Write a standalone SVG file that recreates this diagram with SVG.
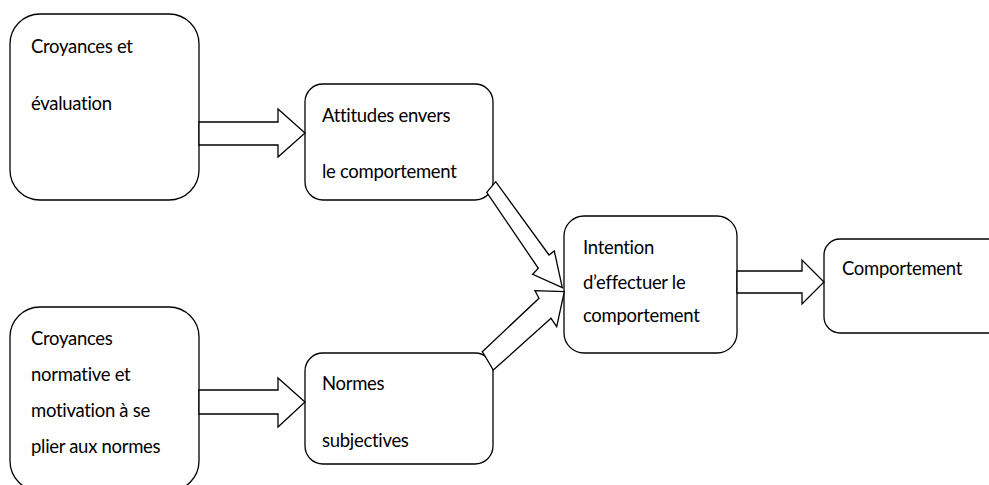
<svg xmlns="http://www.w3.org/2000/svg" width="989" height="485" viewBox="0 0 989 485">
  <style>
    .box { fill: #ffffff; stroke: #000000; stroke-width: 1.3; }
    .arrow { fill: #ffffff; stroke: #000000; stroke-width: 1.3; stroke-linejoin: miter; }
    .label { font-family: Lato, "Open Sans", "Liberation Sans", sans-serif; font-size: 18.5px; letter-spacing: -0.3px; fill: #000000; }
  </style>
  <rect width="989" height="485" fill="#ffffff"/>

  <!-- nodes -->
  <g id="croyances-evaluation">
    <rect class="box" x="10" y="14" width="189" height="186" rx="30" ry="30"/>
    <text class="label" x="31" y="53">Croyances et</text>
    <text class="label" x="31" y="110">évaluation</text>
  </g>

  <g id="attitudes">
    <rect class="box" x="305" y="84" width="188" height="116" rx="18" ry="18"/>
    <text class="label" x="322" y="122">Attitudes envers</text>
    <text class="label" x="322" y="178">le comportement</text>
  </g>

  <g id="croyances-normatives">
    <rect class="box" x="10" y="307" width="189" height="184" rx="30" ry="30"/>
    <text class="label" x="31" y="345">Croyances</text>
    <text class="label" x="31" y="381">normative et</text>
    <text class="label" x="31" y="417">motivation à se</text>
    <text class="label" x="31" y="453">plier aux normes</text>
  </g>

  <g id="normes-subjectives">
    <rect class="box" x="305" y="353" width="188" height="111" rx="18" ry="18"/>
    <text class="label" x="322" y="390">Normes</text>
    <text class="label" x="322" y="447">subjectives</text>
  </g>

  <g id="intention">
    <rect class="box" x="564" y="216" width="173" height="137" rx="20" ry="20"/>
    <text class="label" x="583" y="254">Intention</text>
    <text class="label" x="583" y="289">d’effectuer le</text>
    <text class="label" x="583" y="322">comportement</text>
  </g>

  <g id="comportement">
    <rect class="box" x="824" y="239" width="190" height="94" rx="16" ry="16"/>
    <text class="label" x="842" y="275">Comportement</text>
  </g>

  <!-- connectors: hollow block arrows -->
  <g id="connectors">
    <polygon class="arrow" points="199,122 278,122 278,109 305,133 278,157 278,145 199,145"/>
    <polygon class="arrow" points="199,390 278,390 278,378 305,402 278,427 278,414 199,414"/>
    <polygon class="arrow" points="737,271 802,271 802,260 824,282 802,304 802,293 737,293"/>
    <polygon class="arrow" points="486.7,192.3 495.7,181.7 549,255 554.3,251 562.3,287.7 532.7,274.3 538.3,268.3"/>
    <polygon class="arrow" points="482.3,351.7 539,298.3 535,290.7 564.3,291.7 556.7,326.7 551,318.3 493.3,370"/>
  </g>
</svg>
